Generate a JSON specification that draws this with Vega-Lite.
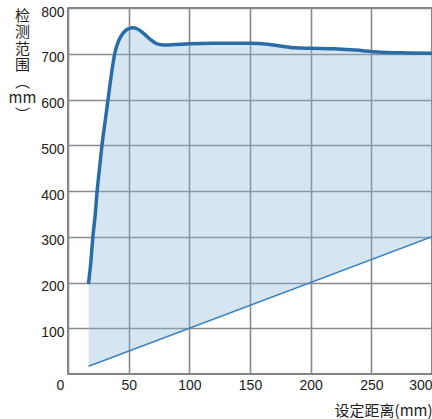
{
  "$schema": "https://vega.github.io/schema/vega-lite/v6.json",
  "width": 364,
  "height": 366,
  "autosize": "none",
  "padding": {"left": 68, "top": 8, "right": 0, "bottom": 45},
  "background": "white",
  "datasets": {
    "range": [
      {"dist": 17, "hi": 200, "lo": 17},
      {"dist": 19, "hi": 250, "lo": 19},
      {"dist": 20.5, "hi": 300, "lo": 20.5},
      {"dist": 22.5, "hi": 350, "lo": 22.5},
      {"dist": 24, "hi": 400, "lo": 24},
      {"dist": 26, "hi": 450, "lo": 26},
      {"dist": 28, "hi": 500, "lo": 28},
      {"dist": 30.5, "hi": 550, "lo": 30.5},
      {"dist": 33, "hi": 600, "lo": 33},
      {"dist": 35.5, "hi": 650, "lo": 35.5},
      {"dist": 38.5, "hi": 700, "lo": 38.5},
      {"dist": 42, "hi": 730, "lo": 42},
      {"dist": 46, "hi": 747, "lo": 46},
      {"dist": 50, "hi": 755, "lo": 50},
      {"dist": 54, "hi": 757, "lo": 54},
      {"dist": 58, "hi": 753, "lo": 58},
      {"dist": 63, "hi": 743, "lo": 63},
      {"dist": 68, "hi": 731, "lo": 68},
      {"dist": 73, "hi": 722, "lo": 73},
      {"dist": 79, "hi": 719, "lo": 79},
      {"dist": 88, "hi": 720, "lo": 88},
      {"dist": 100, "hi": 722, "lo": 100},
      {"dist": 120, "hi": 723, "lo": 120},
      {"dist": 150, "hi": 723, "lo": 150},
      {"dist": 165, "hi": 721, "lo": 165},
      {"dist": 175, "hi": 717, "lo": 175},
      {"dist": 187, "hi": 713, "lo": 187},
      {"dist": 200, "hi": 712, "lo": 200},
      {"dist": 220, "hi": 711, "lo": 220},
      {"dist": 237, "hi": 708, "lo": 237},
      {"dist": 255, "hi": 704, "lo": 255},
      {"dist": 275, "hi": 702, "lo": 275},
      {"dist": 300, "hi": 701, "lo": 300}
    ],
    "lower": [
      {"dist": 17, "val": 17},
      {"dist": 300, "val": 300}
    ]
  },
  "encoding": {
    "x": {
      "field": "dist",
      "type": "quantitative",
      "scale": {"domain": [0, 300], "nice": false},
      "axis": {
        "values": [0, 50, 100, 150, 200, 250, 300],
        "title": "设定距离(mm)",
        "titleFont": "Noto Sans CJK SC",
        "titleFontSize": 15,
        "titleFontWeight": "normal",
        "titleColor": "#222",
        "titleAlign": "right",
        "titleBaseline": "middle",
        "titleX": 364,
        "titleY": 36,
        "labelFont": "Liberation Sans",
        "labelFontSize": 14,
        "labelColor": "#222",
        "labelPadding": 4,
        "labelAlign": {"condition": {"test": "datum.value == 300", "value": "right"}, "value": "center"},
        "labelOffset": {"condition": {"test": "datum.value == 0", "value": -8}, "value": 0},
        "labelFlush": false,
        "domain": false,
        "ticks": false,
        "gridColor": "#8a8a8a",
        "gridWidth": 1.6
      }
    },
    "y": {
      "type": "quantitative",
      "scale": {"domain": [0, 800], "nice": false},
      "axis": {
        "values": [100, 200, 300, 400, 500, 600, 700, 800],
        "title": ["检", "测", "范", "围", "︵", "mm", "︶"],
        "titleFont": "Noto Sans CJK SC",
        "titleFontSize": 15,
        "titleFontWeight": "normal",
        "titleColor": "#222",
        "titleAngle": 0,
        "titleAlign": "center",
        "titleBaseline": "top",
        "titleLineHeight": 16.5,
        "titleX": -46,
        "titleY": 0,
        "labelFont": "Liberation Sans",
        "labelFontSize": 14,
        "labelColor": "#222",
        "labelPadding": 4,
        "labelOffset": 4,
        "domain": false,
        "ticks": false,
        "gridColor": "#8a8a8a",
        "gridWidth": 1.6
      }
    }
  },
  "layer": [
    {
      "data": {"name": "range"},
      "mark": {"type": "area", "interpolate": "monotone", "color": "#87b8da", "fillOpacity": 0.35},
      "encoding": {
        "y": {"field": "hi", "type": "quantitative"},
        "y2": {"field": "lo"}
      }
    },
    {
      "data": {"name": "lower"},
      "mark": {"type": "line", "color": "#3d82bd", "strokeWidth": 1.6},
      "encoding": {
        "y": {"field": "val", "type": "quantitative"}
      }
    },
    {
      "data": {"name": "range"},
      "mark": {"type": "line", "interpolate": "monotone", "color": "#2a6ca6", "strokeWidth": 3.5, "strokeCap": "round"},
      "encoding": {
        "y": {"field": "hi", "type": "quantitative"}
      }
    }
  ],
  "config": {
    "view": {"stroke": "#5a5a5a", "strokeWidth": 1.5}
  }
}
